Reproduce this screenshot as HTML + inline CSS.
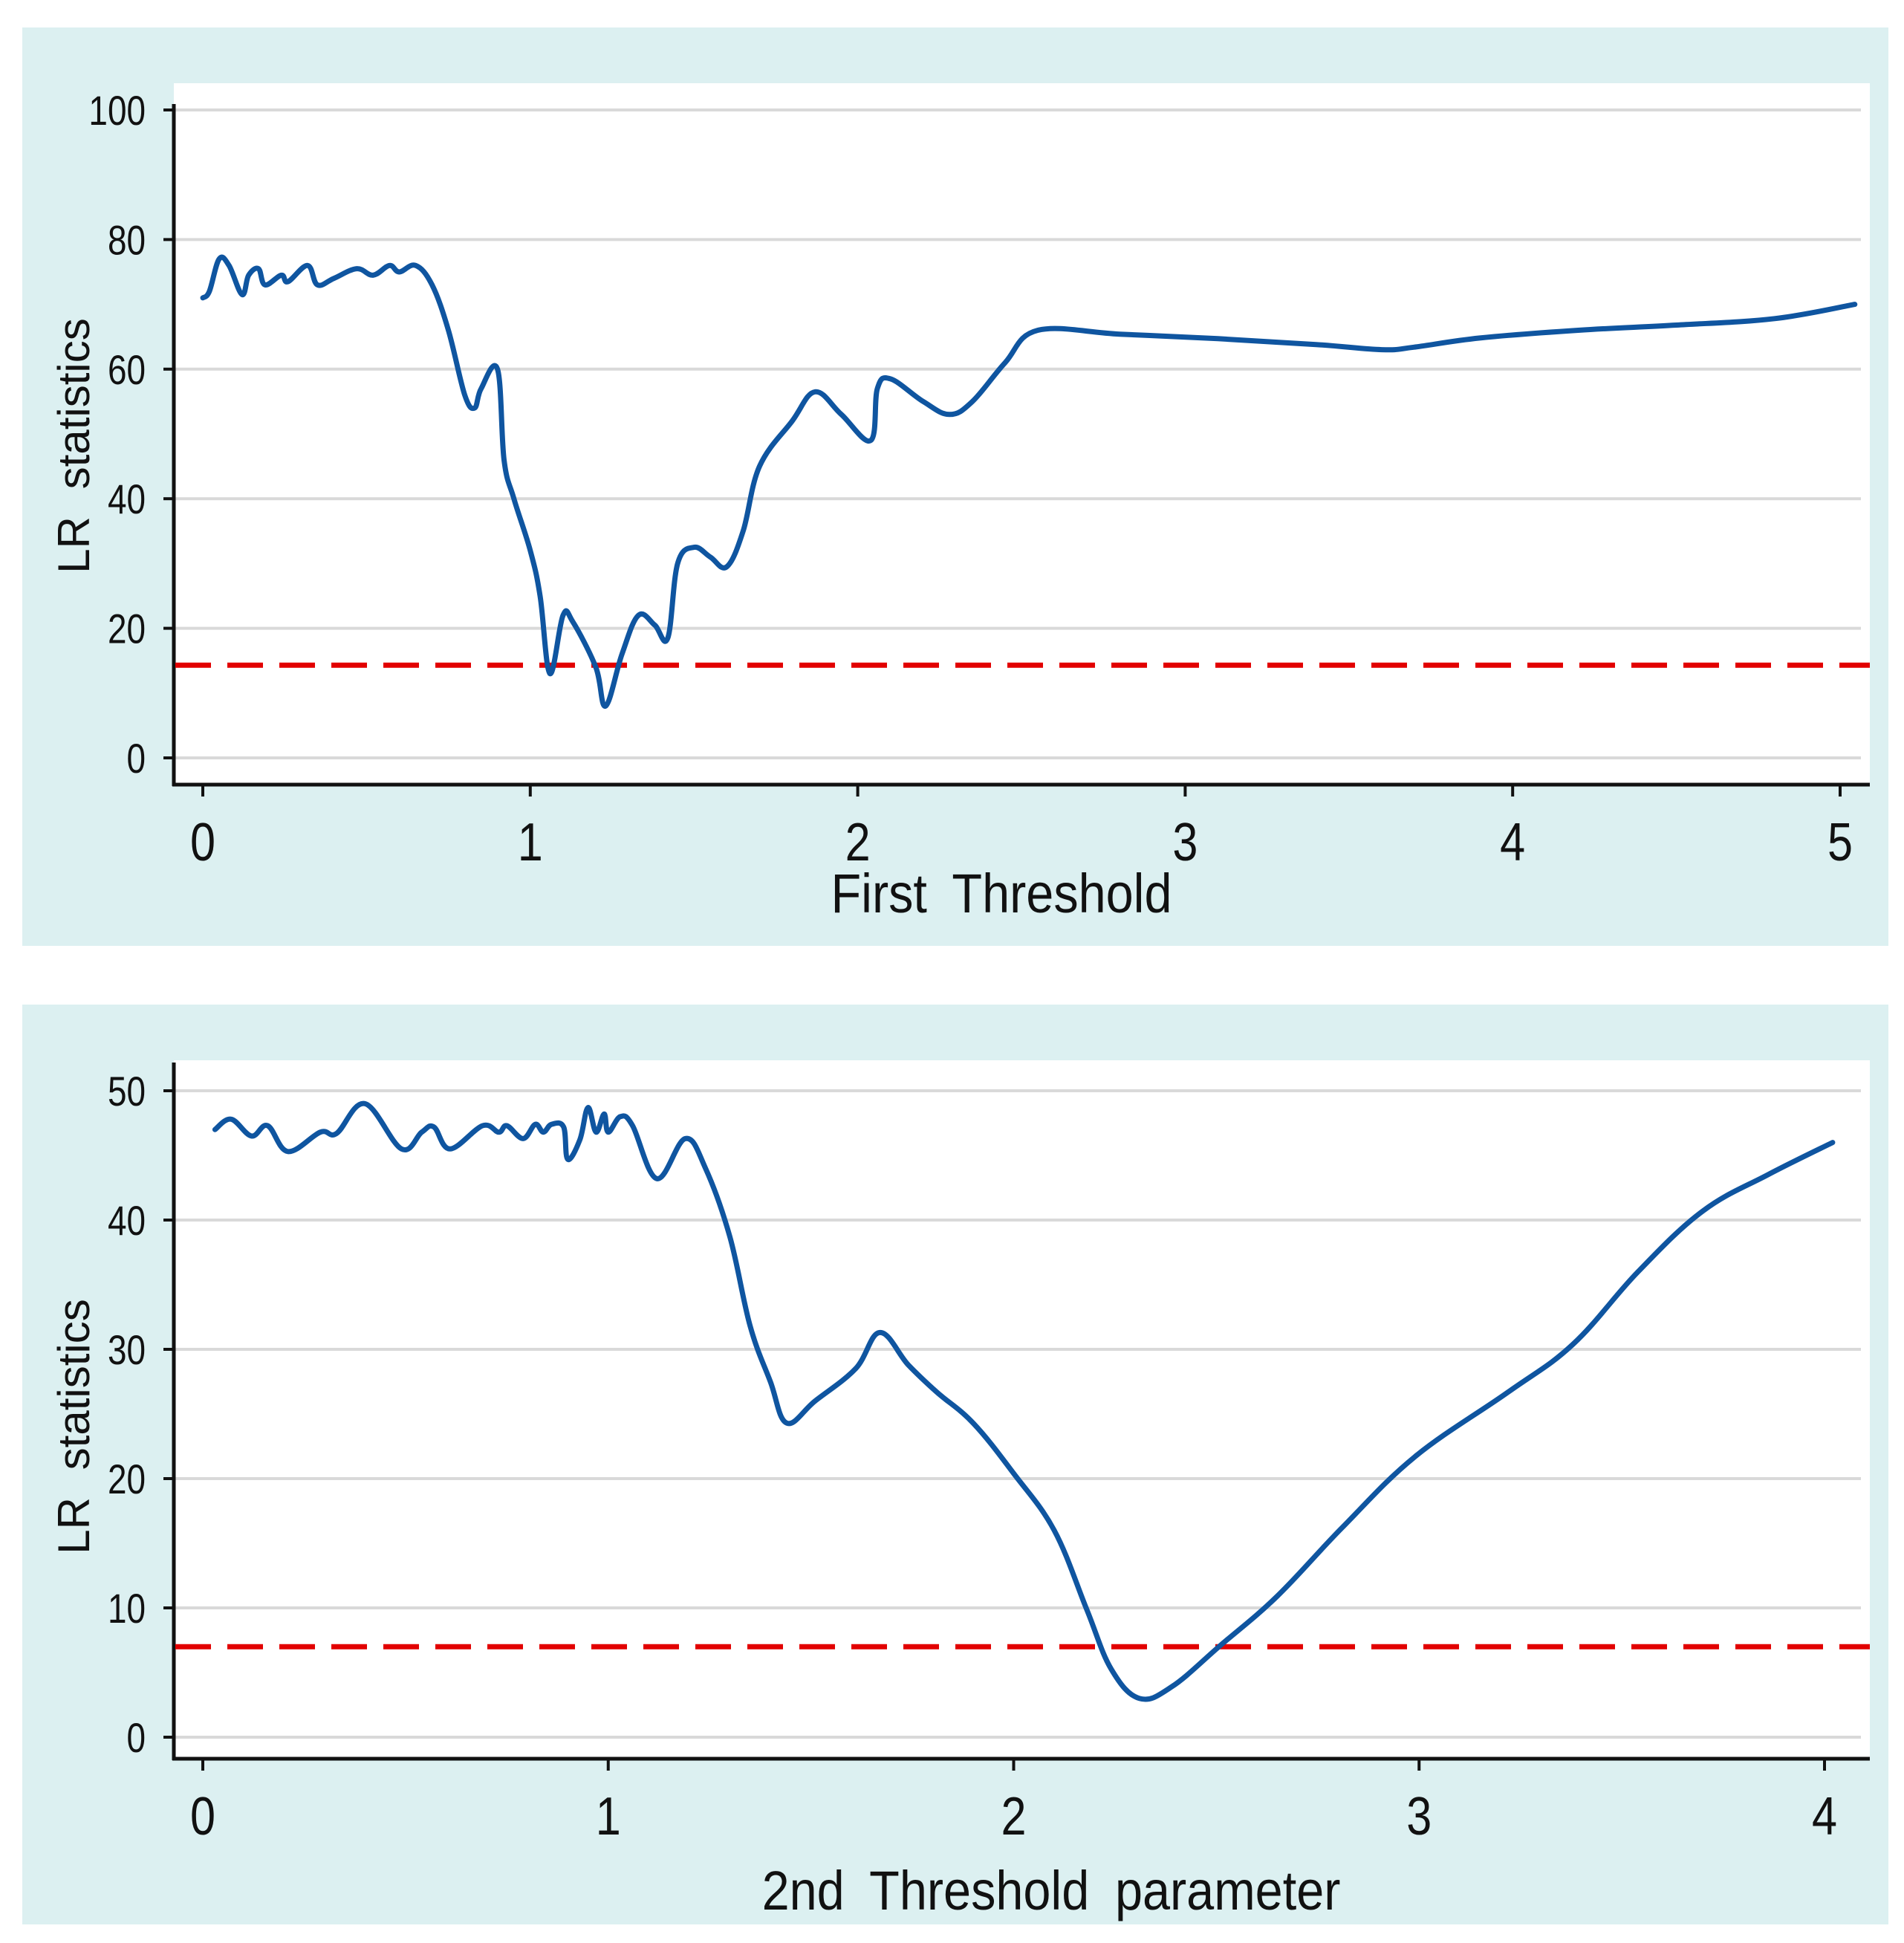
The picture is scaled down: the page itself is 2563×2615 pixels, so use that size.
<!DOCTYPE html>
<html><head><meta charset="utf-8"><style>
html,body{margin:0;padding:0;background:#fff;}
svg{display:block;}
.tick{font-family:"Liberation Sans Narrow","Liberation Sans",sans-serif;fill:#111;}
.ttl{font-family:"Liberation Sans",sans-serif;fill:#111;}
</style></head><body>
<svg id="chart" width="2563" height="2615" viewBox="0 0 2563 2615" xmlns="http://www.w3.org/2000/svg"></svg>
<script>
// ---- Panel 1 data ----
const p1X = [0,0.02,0.05,0.08,0.12,0.14,0.17,0.19,0.24,0.26,0.32,0.35,0.4,0.47,0.52,0.57,0.6,0.65,0.7,0.75,0.8,0.83,0.85,0.9,0.92,0.95,1.0,1.03,1.06,1.1,1.13,1.2,1.23,1.28,1.33,1.38,1.42,1.45,1.5,1.55,1.6,1.65,1.7,1.8,1.87,1.95,2.04,2.06,2.1,2.2,2.28,2.35,2.45,2.55,2.8,3.1,3.4,3.6,3.7,3.9,4.2,4.5,4.8,5.045];
const p1Y = [71,72,77,76,71.5,74.5,75.5,73,74.5,73.5,76,73,74,75.5,74.5,76,75,76,73,66,56,54,57,60,46,40,32,25,13,22,21,14,8,16,22,20.5,18.5,30,32.5,31,29.5,35,45,52,56.5,53,49,57,58.5,55,53,55,61,66,65.4,64.7,63.8,63,63.4,64.8,66,66.8,67.8,70];
const p1XTicks = [0,1,2,3,4,5];
const p1YTicks = [0,20,40,60,80,100];
const p1Crit = 14.3;
// ---- Panel 2 data ----
const p2X = [0.03,0.07,0.12,0.16,0.21,0.29,0.33,0.40,0.49,0.54,0.57,0.61,0.69,0.73,0.75,0.79,0.82,0.84,0.86,0.89,0.90,0.93,0.95,0.97,0.99,1.0,1.03,1.06,1.12,1.19,1.24,1.30,1.35,1.40,1.44,1.51,1.61,1.67,1.74,1.81,1.90,2.0,2.1,2.18,2.24,2.31,2.39,2.51,2.65,2.81,2.99,3.22,3.38,3.54,3.70,3.86,4.02];
const p2Y = [47,47.8,46.5,47.3,45.3,46.8,46.7,49,45.5,46.8,47.2,45.5,47.3,46.8,47.3,46.3,47.4,46.8,47.4,47.2,44.7,46.2,48.7,46.8,48.2,46.8,48,47.3,43.2,46.3,44,38.7,31.8,27.5,24.3,26,28.5,31.3,28.8,26.7,24.3,20.4,16,9.9,5.3,3.0,3.9,7.1,10.9,16.2,21.7,26.7,30.4,36,40.7,43.5,46.0];
const p2XTicks = [0,1,2,3,4];
const p2YTicks = [0,10,20,30,40,50];
const p2Crit = 7.0;

const NS = "http://www.w3.org/2000/svg";
const svg = document.getElementById('chart');
function mk(tag, attrs, parent){
  const e = document.createElementNS(NS, tag);
  for (const k in attrs) e.setAttribute(k, attrs[k]);
  (parent||svg).appendChild(e);
  return e;
}
function smoothPath(pts){
  let d = "M"+pts[0][0].toFixed(1)+","+pts[0][1].toFixed(1);
  for (let i=0;i<pts.length-1;i++){
    const p0=pts[Math.max(0,i-1)], p1=pts[i], p2=pts[i+1], p3=pts[Math.min(pts.length-1,i+2)];
    const t=0.18;
    const c1x=p1[0]+(p2[0]-p0[0])*t, c1y=p1[1]+(p2[1]-p0[1])*t;
    const c2x=p2[0]-(p3[0]-p1[0])*t, c2y=p2[1]-(p3[1]-p1[1])*t;
    d += " C"+c1x.toFixed(1)+","+c1y.toFixed(1)+" "+c2x.toFixed(1)+","+c2y.toFixed(1)+" "+p2[0].toFixed(1)+","+p2[1].toFixed(1);
  }
  return d;
}

function panel(cfg){
  const g = mk('g', {});
  
  
  const bg = mk('rect', {x:30, y:cfg.bgTop, width:2512, height:cfg.bgH, fill:'#dcf0f1'}, g);
  
  
  const pl = mk('rect', {x:234, y:cfg.plotTop, width:2283, height:cfg.axisY-cfg.plotTop, fill:'#ffffff'}, g);
  
  
  const sx = v => cfg.x0 + v * cfg.xs;
  const sy = v => cfg.y0 - v * cfg.ys;
  cfg.yTicks.forEach(t => {
    const y = sy(t);
    const gl = mk('line', {x1:236, x2:2505, y1:y, y2:y, stroke:'#d9d9d9', 'stroke-width':4}, g);
    
    
    mk('line', {x1:220, x2:234, y1:y, y2:y, stroke:'#111', 'stroke-width':4}, g);
    const tx = mk('text', {x:0, y:0, 'text-anchor':'end', 'font-size':56, class:'tick', transform:'translate(196,'+(y+20)+') scale(0.82,1)'}, g);
    tx.textContent = t;
    
    
  });
  cfg.xTicks.forEach(t => {
    const x = sx(t);
    mk('line', {x1:x, x2:x, y1:cfg.axisY, y2:cfg.axisY+16, stroke:'#111', 'stroke-width':4}, g);
    const tx = mk('text', {x:0, y:0, 'text-anchor':'middle', 'font-size':72, class:'tick', transform:'translate('+x+','+(cfg.axisY+102)+') scale(0.85,1)'}, g);
    tx.textContent = t;
    
    
  });
  const ya = mk('line', {x1:234, x2:234, y1:cfg.axisTop, y2:cfg.axisY+2, stroke:'#111', 'stroke-width':5}, g);
  
  
  const xa = mk('line', {x1:232, x2:2517, y1:cfg.axisY, y2:cfg.axisY, stroke:'#111', 'stroke-width':5}, g);
  
  
  const cy = sy(cfg.crit);
  const cl = mk('line', {x1:236, x2:2517, y1:cy, y2:cy, stroke:'#e20000', 'stroke-width':7, 'stroke-dasharray':'48 22'}, g);
  
  
  const pts = cfg.xs_data.map((v,i) => [sx(v), sy(cfg.ys_data[i])]);
  const ln = mk('path', {d:smoothPath(pts), fill:'none', stroke:'#0f55a0', 'stroke-width':7, 'stroke-linejoin':'round', 'stroke-linecap':'round'}, g);
  
  
  const xt = mk('text', {x:0, y:0, 'text-anchor':'middle', 'font-size':74, class:'tick', 'word-spacing':'18', transform:'translate('+cfg.xtX+','+cfg.xtY+') scale(0.9,1)'}, g);
  xt.textContent = cfg.xTitle;
  
  
  const yt = mk('text', {x:0, y:0, 'text-anchor':'middle', 'font-size':60, class:'ttl', 'word-spacing':'20', transform:'translate(120,'+cfg.ytY+') rotate(-90)'}, g);
  yt.textContent = 'LR statistics';
  
  
}

panel({name:'first-threshold-panel', bgTop:37, bgH:1236, plotTop:112, axisTop:140, axisY:1056,
  x0:273, xs:440.8, y0:1020, ys:8.72, xTicks:p1XTicks, yTicks:p1YTicks, crit:p1Crit,
  xs_data:p1X, ys_data:p1Y, xTitle:'First Threshold', xtX:1348, xtY:1228, ytY:600});
panel({name:'second-threshold-panel', bgTop:1352, bgH:1238, plotTop:1427, axisTop:1430, axisY:2367,
  x0:273, xs:545.75, y0:2338, ys:17.4, xTicks:p2XTicks, yTicks:p2YTicks, crit:p2Crit,
  xs_data:p2X, ys_data:p2Y, xTitle:'2nd Threshold parameter', xtX:1415, xtY:2570, ytY:1920});
</script>
</body></html>
